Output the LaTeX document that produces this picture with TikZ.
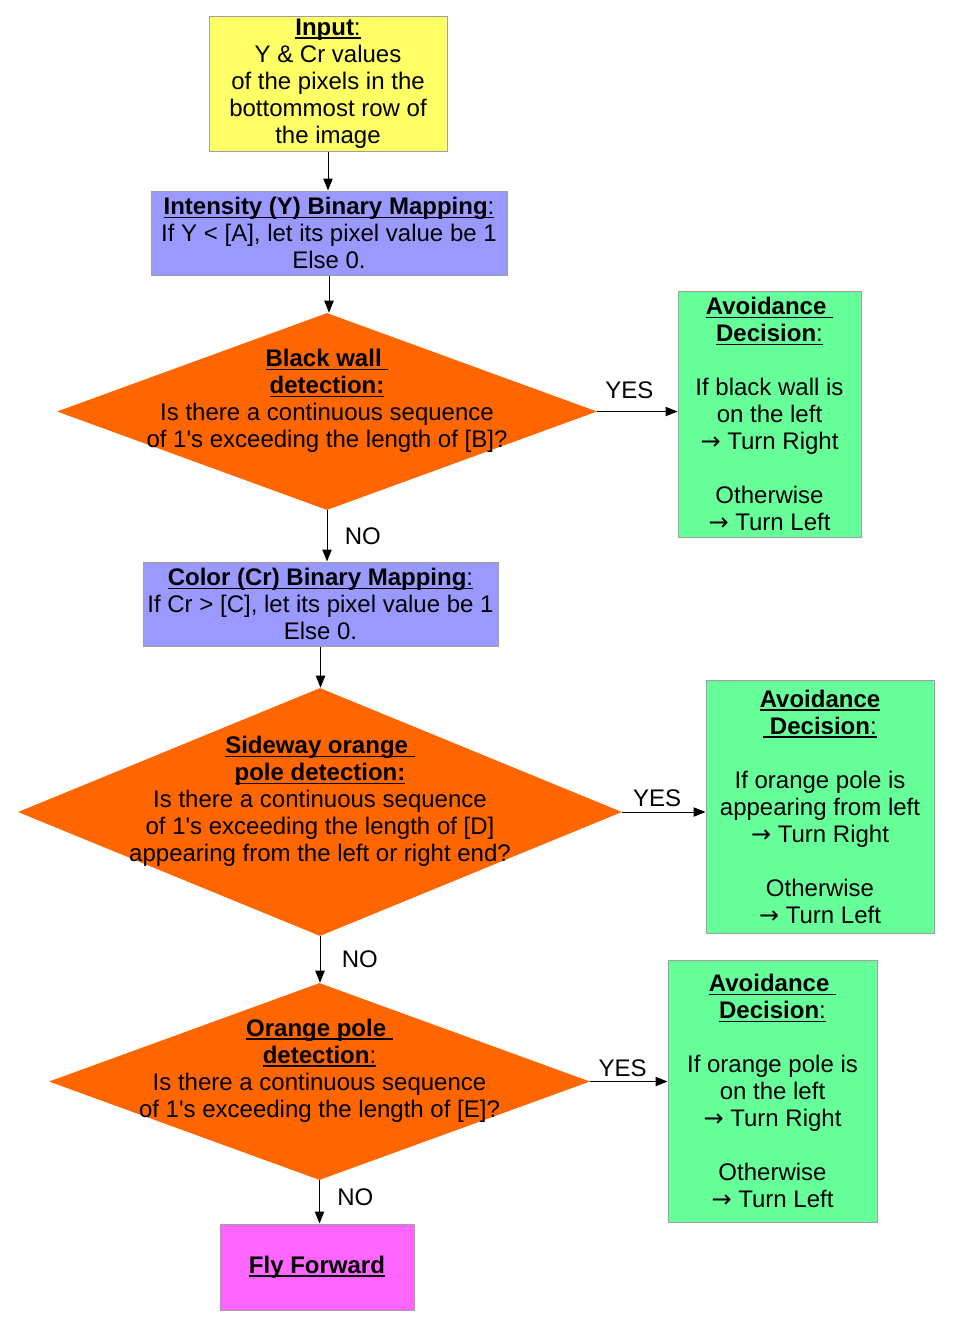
\documentclass[tikz,border=0pt]{standalone}
\usepackage{fontspec}
\setmainfont{Liberation Sans}
\newfontfamily\arrfont{DejaVu Sans}
\usetikzlibrary{shapes.geometric,arrows.meta}
\newcommand\ulx[1]{\setbox0\hbox{#1}\rlap{\raisebox{-2.7pt}{\rule{\wd0}{1.1pt}}}\box0}
\newcommand\apo{\textquotesingle}
\newcommand\rarr{{\arrfont →}}
\definecolor{cyel}{HTML}{FFFF66}
\definecolor{cblu}{HTML}{9999FF}
\definecolor{cora}{HTML}{FF6600}
\definecolor{cgre}{HTML}{66FF99}
\definecolor{cmag}{HTML}{FF66FF}
\definecolor{cbor}{HTML}{A0A0A0}
\tikzset{
  every node/.style={font=\fontsize{18pt}{20.25pt}\selectfont},
  box/.style={rectangle, draw=cbor, line width=0.75pt, inner sep=0pt, align=center},
  dia/.style={diamond, fill=cora, inner sep=0pt},
  dtext/.style={align=center, inner sep=0pt},
  arr/.style={draw=black, line width=0.75pt, -{Triangle[length=9pt,width=7pt]}},
  lbl/.style={inner sep=2pt}
}
\begin{document}
\begin{tikzpicture}[x=0.75pt,y=-0.75pt]
\useasboundingbox[fill=white] (0,0) rectangle (968,1336);
% boxes
\node[box, fill=cyel, minimum width=178.5pt, minimum height=101.25pt] (in) at (328,83.5)
  {\ulx{\textbf{Input}:}\\Y \& Cr values\\of the pixels in the\\bottommost row of\\the image};
\node[box, fill=cblu, minimum width=267pt, minimum height=63pt] (im) at (329,233)
  {\ulx{\textbf{Intensity (Y) Binary Mapping}:}\\If Y < [A], let its pixel value be 1\\Else 0.};
\node[dia, minimum width=405pt, minimum height=147.75pt] (d1) at (327,411.5) {};
\node[dtext] (t1) at (327,401)
  {\ulx{\textbf{Black wall\ }}\\\ulx{\textbf{detection:}}\\Is there a continuous sequence\\of 1\apo s exceeding the length of [B]?};
\node[box, fill=cgre, minimum width=137.25pt, minimum height=184.5pt] (g1) at (769.5,414)
  {\ulx{\textbf{Avoidance\ }}\\\ulx{\textbf{Decision}:}\\~\\If black wall is\\on the left\\\rarr\ Turn Right\\~\\Otherwise\\\rarr\ Turn Left};
\node[box, fill=cblu, minimum width=266.25pt, minimum height=63pt] (cm) at (320.5,604)
  {\ulx{\textbf{Color (Cr) Binary Mapping}:}\\If Cr > [C], let its pixel value be 1\\Else 0.};
\node[dia, minimum width=453pt, minimum height=186pt] (d2) at (320,812) {};
\node[dtext] (t2) at (320,801.5)
  {\ulx{\textbf{Sideway orange\ }}\\\ulx{\textbf{pole detection:}}\\Is there a continuous sequence\\of 1\apo s exceeding the length of [D]\\appearing from the left or right end?};
\node[box, fill=cgre, minimum width=171pt, minimum height=189.75pt] (g2) at (820,806.5)
  {\ulx{\textbf{Avoidance}}\\\ulx{\textbf{\ Decision}:}\\~\\If orange pole is\\appearing from left\\\rarr\ Turn Right\\~\\Otherwise\\\rarr\ Turn Left};
\node[dia, minimum width=405.75pt, minimum height=147.75pt] (d3) at (319.5,1081.5) {};
\node[dtext] (t3) at (319.5,1070.5)
  {\ulx{\textbf{Orange pole\ }}\\\ulx{\textbf{detection}:}\\Is there a continuous sequence\\of 1\apo s exceeding the length of [E]?};
\node[box, fill=cgre, minimum width=156.75pt, minimum height=196.5pt] (g3) at (772.5,1091)
  {\ulx{\textbf{Avoidance\ }}\\\ulx{\textbf{Decision}:}\\~\\If orange pole is\\on the left\\\rarr\ Turn Right\\~\\Otherwise\\\rarr\ Turn Left};
\node[box, fill=cmag, minimum width=145.5pt, minimum height=64.5pt] (ff) at (317,1267)
  {\ulx{\textbf{Fly Forward}}};
% connectors
\draw[arr] (in.south) -- (in.south |- im.north);
\draw[arr] (im.south) -- (im.south |- d1.north);
\draw[arr] (d1.south) -- node[lbl, right=11pt] (n1) {NO} (d1.south |- cm.north);
\draw[arr] (cm.south) -- (cm.south |- d2.north);
\draw[arr] (d2.south) -- node[lbl, right=14pt] (n2) {NO} (d2.south |- d3.north);
\draw[arr] (d3.south) -- node[lbl, pos=0.4, right=11pt] (n3) {NO} (d3.south |- ff.north);
\draw[arr] (d1.east) -- node[lbl, pos=0.4, above=7pt] (y1) {YES} (d1.east -| g1.west);
\draw[arr] (d2.east) -- node[lbl, pos=0.42, above=1.5pt] (y2) {YES} (d2.east -| g2.west);
\draw[arr] (d3.east) -- node[lbl, pos=0.42, above=1.5pt] (y3) {YES} (d3.east -| g3.west);
\end{tikzpicture}
\end{document}
